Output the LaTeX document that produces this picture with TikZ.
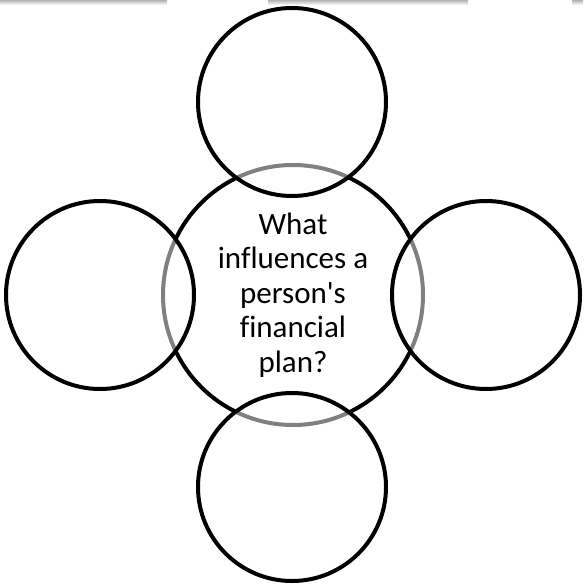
\documentclass[tikz,border=0pt]{standalone}
\usepackage{fontspec}
\setmainfont[Ligatures={NoCommon}]{Carlito}
\usepackage{tikz}
\tikzstyle{petal}=[circle, draw, line width=4pt, inner sep=0pt, minimum size=188pt, fill=white, fill opacity=0.5]
\tikzstyle{hub}=[circle, draw, line width=4pt, inner sep=0pt, minimum size=260pt, fill=white, align=center, font=\fontsize{31pt}{34.5pt}\selectfont]
\newcommand{\petal}{\node[petal]}
\begin{document}
\begin{tikzpicture}[x=1pt,y=-1pt]
\useasboundingbox (0,0) rectangle (583,585);

% faint shadow strips along the top edge
\shade[top color=black!30, bottom color=white] (0,0) rectangle (167,5);
\shade[top color=black!30, bottom color=white] (268,0) rectangle (468,5);
\shade[top color=black!30, bottom color=white] (572,0) rectangle (583,5);

\node[hub] (q) at (293,295) {What\\influences a\\person\textquotesingle s\\financial\\plan?};
    \petal (top) at (292,102) {};
    \petal (left) at (100,295) {};
    \petal (right) at (486,295) {};
    \petal (bottom) at (292,487) {};
\end{tikzpicture}
\end{document}
